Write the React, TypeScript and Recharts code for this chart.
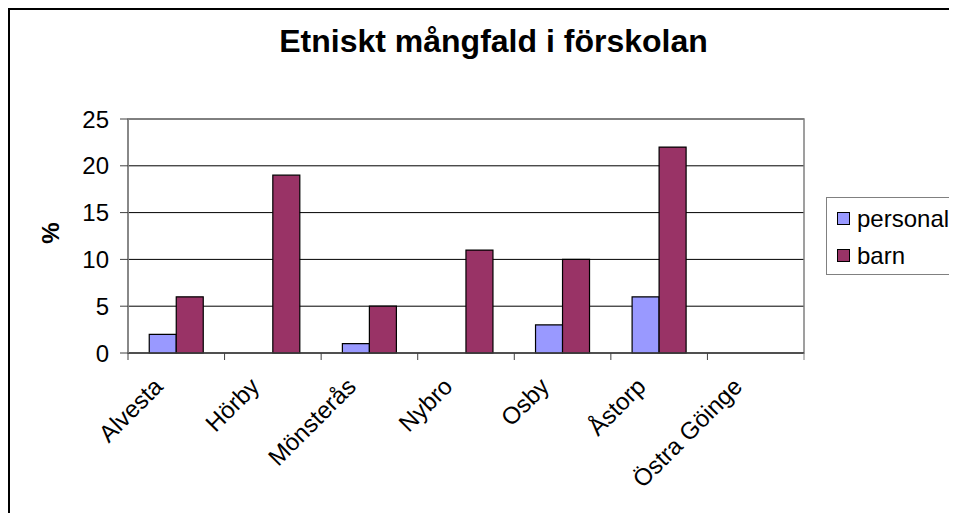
import React from "react";
import {
  BarChart,
  Bar,
  XAxis,
  YAxis,
  CartesianGrid,
  ReferenceArea,
} from "recharts";

const kommuner = ["Alvesta", "Hörby", "Mönsterås", "Nybro", "Osby", "Åstorp", "Östra Göinge"];
const personal = [2, 0, 1, 0, 3, 6, 0];
const barn = [6, 19, 5, 11, 10, 22, 0];
const yTicks = [0, 5, 10, 15, 20, 25];

const seriesNames = ["personal", "barn"];
const seriesColors = ["#9999FF", "#993366"];

const data = kommuner.map((name, i) => ({
  name,
  personal: personal[i],
  barn: barn[i],
}));

const FONT = "'Liberation Sans', Arial, sans-serif";

function CategoryTick(props: any) {
  const { x, y, payload, index, visibleTicksCount, width } = props;
  const half = payload?.offset ?? width / visibleTicksCount / 2;
  const ax = x - 12;
  const ay = y + 35;
  return (
    <g>
      <line x1={x - half} y1={y} x2={x - half} y2={y + 7} stroke="#404040" />
      {index === visibleTicksCount - 1 && (
        <line x1={x + half} y1={y} x2={x + half} y2={y + 7} stroke="#808080" />
      )}
      <text
        x={ax}
        y={ay}
        transform={`rotate(-45, ${ax}, ${ay})`}
        textAnchor="end"
        fontSize={24}
        fontFamily={FONT}
        fill="#000"
      >
        {payload.value}
      </text>
    </g>
  );
}

export default function App() {
  return (
    <div
      style={{
        position: "relative",
        width: 947,
        height: 503,
        borderLeft: "2px solid #000",
        borderTop: "2px solid #000",
        overflow: "hidden",
        background: "#fff",
        fontFamily: FONT,
      }}
    >
      <style>{`html,body{overflow:hidden}`}</style>
      <div
        style={{
          position: "absolute",
          left: 183.5,
          width: 600,
          top: 15,
          textAlign: "center",
          fontSize: 32,
          lineHeight: "32px",
          fontWeight: "bold",
          color: "#000",
        }}
      >
        Etniskt mångfald i förskolan
      </div>
      <div
        style={{
          position: "absolute",
          left: 20.5,
          top: 207.5,
          width: 40,
          height: 30,
          lineHeight: "30px",
          textAlign: "center",
          fontSize: 24,
          fontWeight: "bold",
          transform: "rotate(-90deg)",
        }}
      >
        %
      </div>

      <BarChart
        width={947}
        height={503}
        data={data}
        margin={{ top: 109, right: 153, bottom: 0, left: 0 }}
        barCategoryGap="22%"
        barGap={0}
      >
        <CartesianGrid vertical={false} stroke="#000" horizontalValues={yTicks} />
        <ReferenceArea y1={0} y2={25} fill="none" stroke="#808080" strokeWidth={1.5} ifOverflow="visible" />
        <XAxis
          dataKey="name"
          height={160}
          tickSize={0}
          tickMargin={0}
          tickLine={false}
          axisLine={{ stroke: "#404040", strokeWidth: 1.5 }}
          interval={0}
          tick={<CategoryTick />}
        />
        <YAxis
          width={118}
          domain={[0, 25]}
          ticks={yTicks}
          tickSize={8}
          tickMargin={11}
          interval={0}
          axisLine={{ stroke: "#808080", strokeWidth: 1.5 }}
          tickLine={{ stroke: "#404040" }}
          tick={{ fontSize: 24, fill: "#000", fontFamily: FONT }}
        />
        <Bar dataKey="personal" fill={seriesColors[0]} stroke="#000" strokeWidth={1.2} isAnimationActive={false} />
        <Bar dataKey="barn" fill={seriesColors[1]} stroke="#000" strokeWidth={1.2} isAnimationActive={false} />
      </BarChart>

      <div
        style={{
          position: "absolute",
          left: 816,
          top: 187,
          width: 200,
          height: 74,
          border: "1px solid #808080",
          paddingTop: 2,
          boxSizing: "content-box",
        }}
      >
        {seriesNames.map((name, i) => (
          <div key={name} style={{ display: "flex", alignItems: "center", height: 37 }}>
            <span
              style={{
                display: "inline-block",
                width: 11,
                height: 11,
                marginLeft: 10,
                border: "1px solid #000",
                background: seriesColors[i],
              }}
            />
            <span style={{ marginLeft: 7, fontSize: 24, color: "#000", whiteSpace: "nowrap" }}>{name}</span>
          </div>
        ))}
      </div>
    </div>
  );
}
